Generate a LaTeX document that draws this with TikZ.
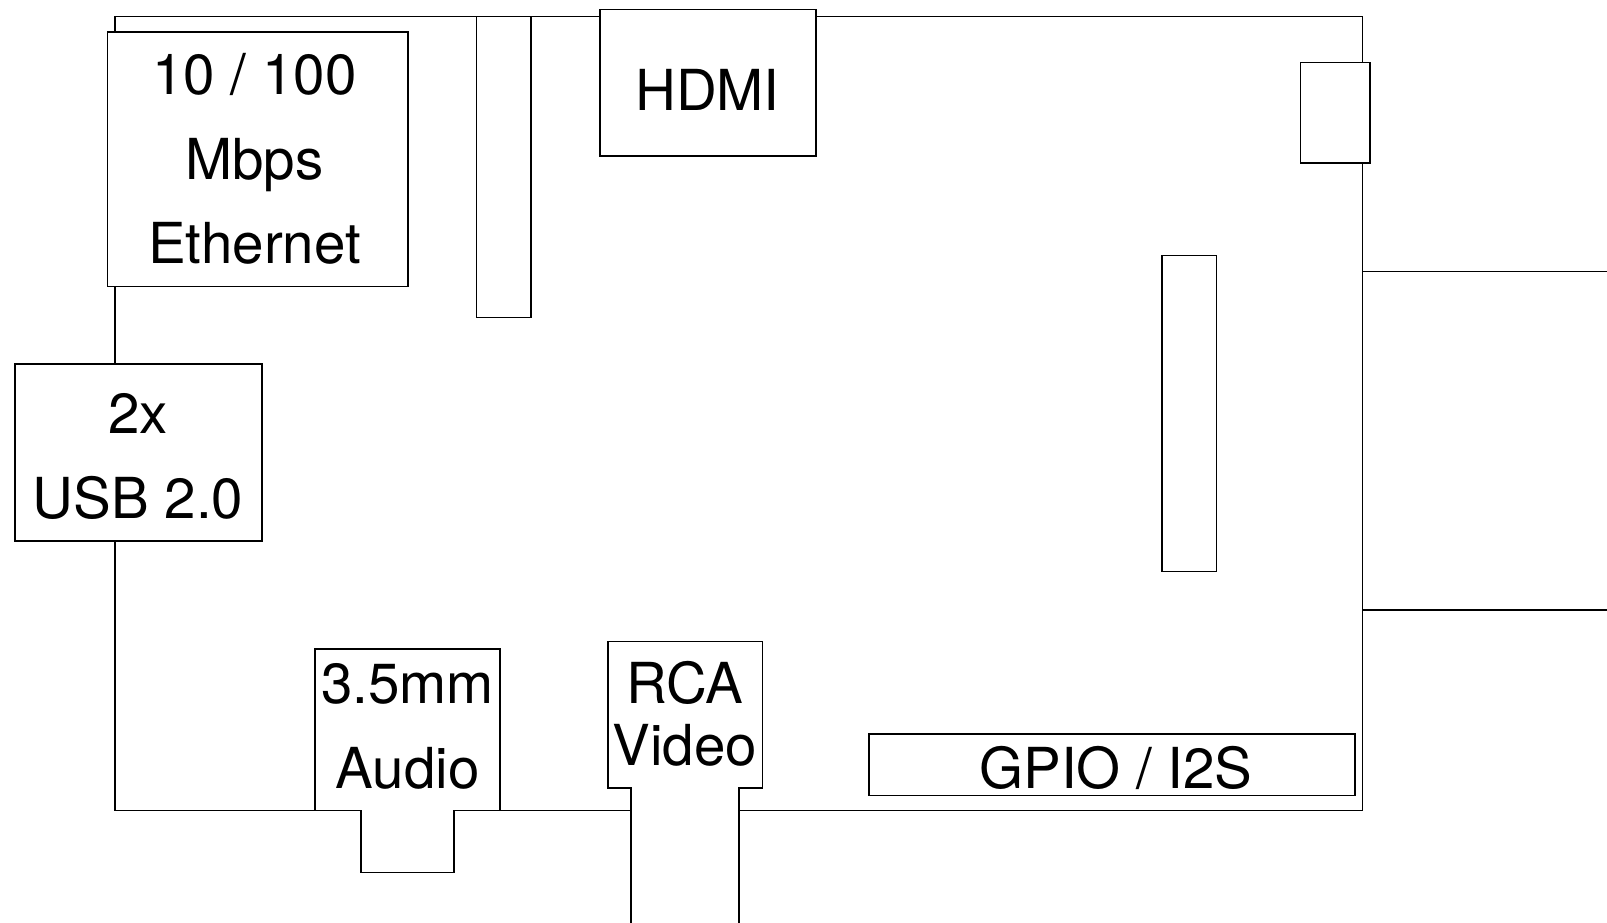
\documentclass[tikz,border=0pt]{standalone}
\usepackage{fontspec}
\setmainfont{TeX Gyre Heros}
\tikzset{
  part/.style={draw=black,fill=white,line width=1.3pt,rectangle,inner sep=0pt,outer sep=0pt,anchor=north west},
  wire/.style={draw=black,line width=1.3pt},
  lbl/.style={font=\fontsize{56.5}{58}\selectfont,inner sep=0pt,anchor=base,text=black}
}
\begin{document}
\begin{tikzpicture}[x=1pt,y=-1pt]
\useasboundingbox (0,0) rectangle (1607,923);
% board
\coordinate (bTL) at (115,16.5);
\coordinate (bTR) at (1362.5,16.5);
\coordinate (bBR) at (1362.5,810.5);
\coordinate (bBL) at (115,810.5);
\draw[wire] (bTL) -- (bTR) -- (bBR) -- (bBL) -- cycle;
\coordinate (r1a) at (1362.5,271.5); \coordinate (r1b) at (1607,271.5);
\coordinate (r2a) at (1362.5,610); \coordinate (r2b) at (1607,610);
\draw[wire] (r1a) -- (r1b);
\draw[wire] (r2a) -- (r2b);
% rectangular parts
\node[part,minimum width=300.5pt,minimum height=254.5pt] (eth) at (107.5,32) {};
\node[part,minimum width=54.5pt,minimum height=301pt] (bar) at (476.5,16.5) {};
\node[part,minimum width=216pt,minimum height=146.5pt] (hdmi) at (600,9.5) {};
\node[part,minimum width=69.5pt,minimum height=100.5pt] (pwr) at (1300.5,62.5) {};
\node[part,minimum width=54.5pt,minimum height=316pt] (sd) at (1162,255.5) {};
\node[part,minimum width=247pt,minimum height=177pt] (usb) at (15,364) {};
\node[part,minimum width=486pt,minimum height=61.5pt] (gpio) at (869,734) {};
% audio and RCA shapes
\filldraw[wire,fill=white] (315,810.5) -- (315,649) -- (500,649) -- (500,810.5) -- (454,810.5) -- (454,872.5) -- (361,872.5) -- (361,810.5) -- cycle;
\fill[white] (632,785) rectangle (738,923);
\draw[wire,fill=white] (631,923) -- (631,788) -- (608,788) -- (608,641.5) -- (762.5,641.5) -- (762.5,788) -- (739,788) -- (739,923);
% labels
\node[lbl] (t1) at (254.5,94.5) {10 / 100};
\node[lbl] (t2) at (254.5,179) {Mbps};
\node[lbl] (t3) at (254.5,263) {Ethernet};
\node[lbl] (t4) at (707.5,110.5) {HDMI};
\node[lbl] (t5) at (138,433.5) {2x};
\node[lbl] (t6) at (138,518) {USB 2.0};
\node[lbl] (t7) at (407.5,703) {3.5mm};
\node[lbl] (t8) at (407.5,788) {Audio};
\node[lbl] (t9) at (685,703) {RCA};
\node[lbl] (t10) at (685,765) {Video};
\node[lbl] (t11) at (1116,788) {GPIO / I2S};
\end{tikzpicture}
\end{document}
